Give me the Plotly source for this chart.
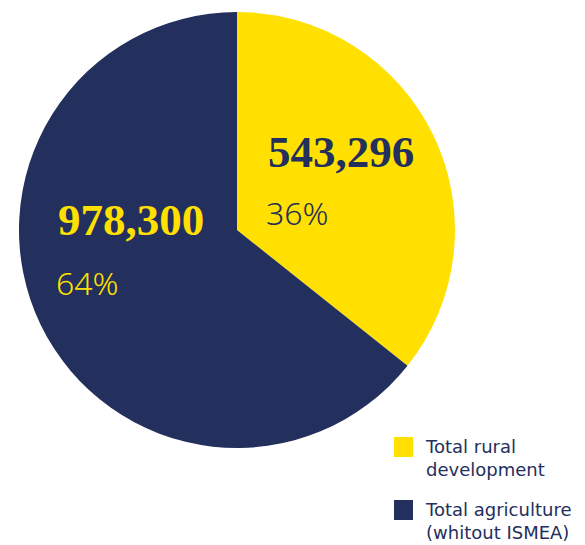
import plotly.graph_objects as go

# Spending split
categories = ["Total rural development", "Total agriculture (whitout ISMEA)"]
legend_lines = [["Total rural", "development"], ["Total agriculture", "(whitout ISMEA)"]]
values = [543296, 978300]
colors = ["#FFE000", "#232F5C"]
text_colors = ["#232F5C", "#FFE000"]

W, H = 585, 545
total = sum(values)


def px(x):
    return x / W


def py(y):
    return 1 - y / H


fig = go.Figure(
    go.Pie(
        labels=categories,
        values=values,
        marker=dict(colors=colors, line=dict(width=0)),
        sort=False,
        direction="clockwise",
        rotation=0,
        textinfo="none",
        hoverinfo="label+value+percent",
        showlegend=False,
        domain=dict(x=[px(19), px(455)], y=[py(448), py(12)]),
    )
)

# value and share labels inside each slice
label_pos = [(266, 152, 212), (56, 220, 282)]
annotations = []
for v, c, (x, yv, yp) in zip(values, text_colors, label_pos):
    annotations.append(dict(
        x=px(x), y=py(yv), xref="paper", yref="paper", xanchor="left", yanchor="middle",
        text=f"{v:,}", showarrow=False,
        font=dict(family="Liberation Serif", size=45, color=c, weight="bold"),
    ))
    annotations.append(dict(
        x=px(x - 2), y=py(yp), xref="paper", yref="paper", xanchor="left", yanchor="middle",
        text=f"{round(100 * v / total)}%", showarrow=False,
        font=dict(family="Noto Sans", size=32, color=c, weight=300),
    ))

# custom legend: swatch plus a two-line label per entry
shapes = []
legend_y = [447, 510]
for lines, col, ly in zip(legend_lines, colors, legend_y):
    shapes.append(dict(
        type="rect", xref="paper", yref="paper",
        x0=px(394), x1=px(413), y0=py(ly - 10), y1=py(ly + 10),
        fillcolor=col, line=dict(width=0),
    ))
    annotations.append(dict(
        x=px(423), y=py(ly - 13), xref="paper", yref="paper",
        xanchor="left", yanchor="top", align="left", text="<br>".join(lines), showarrow=False,
        font=dict(family="DejaVu Sans", size=18, color="#232F5C"),
    ))

fig.update_layout(
    width=W, height=H,
    margin=dict(l=0, r=0, t=0, b=0),
    paper_bgcolor="white", plot_bgcolor="white",
    annotations=annotations, shapes=shapes,
)

fig.write_html("out.html")
